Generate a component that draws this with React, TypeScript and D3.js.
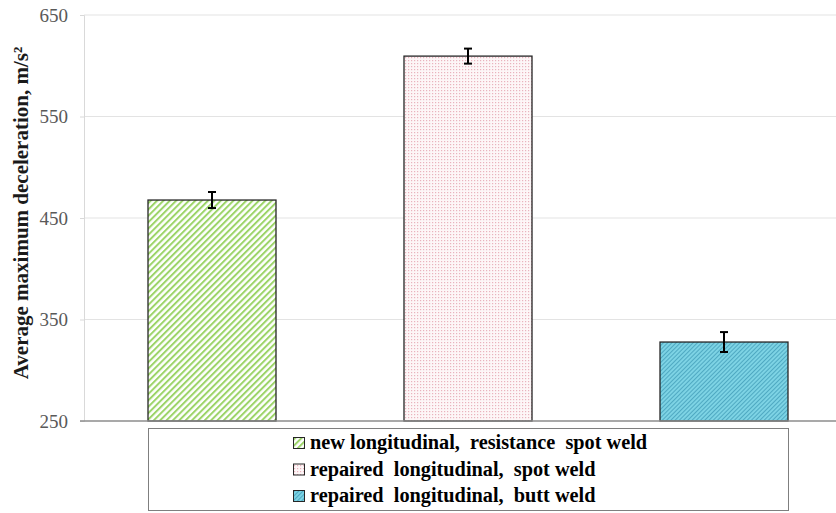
import { useEffect, useRef } from 'react'
import * as d3 from 'd3'

const categories = ['new', 'repairedSpot', 'repairedButt']
const means = [467.7, 609.5, 327.8]
const errors = [7.9, 7.4, 9.8]
const legendLabels = [
  'new longitudinal,  resistance  spot weld',
  'repaired  longitudinal,  spot weld',
  'repaired  longitudinal,  butt weld',
]
const yTicks = [250, 350, 450, 550, 650]

const SERIF = '"Liberation Serif"'

export default function App() {
  const svgRef = useRef<SVGSVGElement | null>(null)

  useEffect(() => {
    const width = 836
    const height = 513
    const svg = d3.select(svgRef.current)
    svg.selectAll('*').remove()
    svg.attr('width', width).attr('height', height)

    const defs = svg.append('defs')
    // green diagonal stripes
    const p1 = defs.append('pattern').attr('id', 'pGreen')
      .attr('patternUnits', 'userSpaceOnUse').attr('width', 4.5).attr('height', 4.5)
      .attr('patternTransform', 'rotate(45)')
    p1.append('rect').attr('width', 4.5).attr('height', 4.5).attr('fill', '#ffffff')
    p1.append('rect').attr('width', 2).attr('height', 4.5).attr('fill', '#9cd468')
    // pink dots
    const p2 = defs.append('pattern').attr('id', 'pPink')
      .attr('patternUnits', 'userSpaceOnUse').attr('width', 3).attr('height', 3)
    p2.append('rect').attr('width', 3).attr('height', 3).attr('fill', '#fdf6f7')
    p2.append('rect').attr('width', 1.2).attr('height', 1.2).attr('fill', '#e9b3bd')
    // blue fine stripes
    const p3 = defs.append('pattern').attr('id', 'pBlue')
      .attr('patternUnits', 'userSpaceOnUse').attr('width', 3).attr('height', 3)
      .attr('patternTransform', 'rotate(45)')
    p3.append('rect').attr('width', 3).attr('height', 3).attr('fill', '#7dd3e4')
    p3.append('rect').attr('width', 1).attr('height', 3).attr('fill', '#4fa9c2')
    const fills = ['url(#pGreen)', 'url(#pPink)', 'url(#pBlue)']

    const left = 84
    const x = d3.scaleBand<string>().domain(categories).range([left, left + 768]).paddingInner(0.5).paddingOuter(0.25)
    const y = d3.scaleLinear().domain([250, 650]).range([421, 15])

    // gridlines
    svg.append('g').selectAll('line').data(yTicks.slice(1)).join('line')
      .attr('x1', left).attr('x2', width).attr('y1', d => y(d)).attr('y2', d => y(d))
      .attr('stroke', '#e3e3e3').attr('stroke-width', 1)

    // y axis
    const yAxis = d3.axisLeft(y).tickValues(yTicks).tickSize(4).tickPadding(12)
    svg.append('g').attr('transform', `translate(${left},0)`).call(yAxis)
      .attr('font-family', null).attr('font-size', null)
      .call(ax => ax.select('.domain').attr('stroke', '#d9d9d9'))
      .call(ax => ax.selectAll('line').attr('stroke', '#d9d9d9'))
      .call(ax => ax.selectAll('text').attr('fill', '#595959').style('font-size', '19px').style('font-family', SERIF))

    // bars
    svg.append('g').selectAll('rect').data(categories).join('rect')
      .attr('x', d => x(d)!).attr('width', x.bandwidth())
      .attr('y', (_, i) => y(means[i])).attr('height', (_, i) => y(250) - y(means[i]))
      .attr('fill', (_, i) => fills[i]).attr('stroke', '#262626').attr('stroke-width', 1.3)

    // baseline
    svg.append('line').attr('x1', left - 4).attr('x2', width).attr('y1', y(250)).attr('y2', y(250))
      .attr('stroke', '#8c8c8c').attr('stroke-width', 1.5)

    // error bars
    const eb = svg.append('g').attr('stroke', '#000').attr('stroke-width', 2)
    categories.forEach((c, i) => {
      const cx = x(c)! + x.bandwidth() / 2
      eb.append('line').attr('x1', cx).attr('x2', cx).attr('y1', y(means[i] + errors[i])).attr('y2', y(means[i] - errors[i]))
      eb.append('line').attr('x1', cx - 4).attr('x2', cx + 4).attr('y1', y(means[i] + errors[i])).attr('y2', y(means[i] + errors[i]))
      eb.append('line').attr('x1', cx - 4).attr('x2', cx + 4).attr('y1', y(means[i] - errors[i])).attr('y2', y(means[i] - errors[i]))
    })

    // y title
    svg.append('text')
      .attr('transform', `translate(28, ${(y(250) + y(650)) / 2 - 5}) rotate(-90)`)
      .attr('text-anchor', 'middle')
      .style('font-family', SERIF)
      .style('font-weight', 'bold').style('font-size', '21px').attr('fill', '#1a1a1a')
      .text('Average maximum deceleration, m/s²')

    // legend
    const lg = svg.append('g')
    lg.append('rect').attr('x', 148.5).attr('y', 428.5).attr('width', 640).attr('height', 82)
      .attr('fill', '#fff').attr('stroke', '#7f7f7f').attr('stroke-width', 1)
    legendLabels.forEach((t, i) => {
      const cy = 443 + i * 26.5
      lg.append('rect').attr('x', 293.5).attr('y', cy - 5.5).attr('width', 11).attr('height', 11)
        .attr('fill', fills[i]).attr('stroke', '#262626').attr('stroke-width', 1)
      lg.append('text').attr('x', 310).attr('y', cy + 6)
        .style('font-family', SERIF)
        .style('font-weight', 'bold').style('font-size', '20.3px').attr('fill', '#000')
        .style('white-space', 'pre')
        .text(t)
    })
  }, [])

  return <svg ref={svgRef} style={{ position: 'absolute', left: 0, top: 0 }} />
}
